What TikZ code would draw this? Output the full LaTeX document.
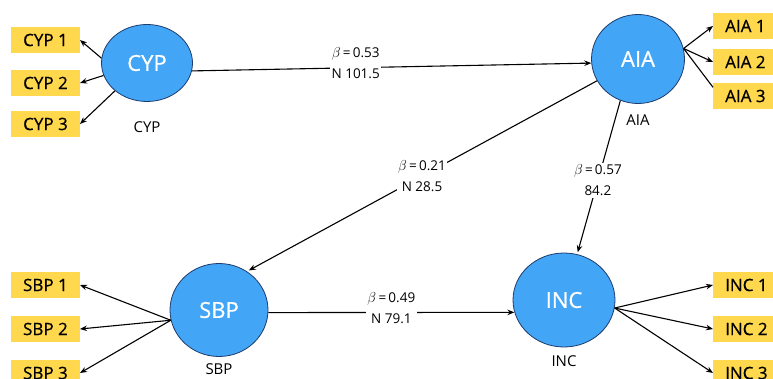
\documentclass[tikz,border=0pt]{standalone}
\usepackage{fontspec}
\setmainfont{Open Sans}
\newfontfamily\medfont{Open Sans}[FakeBold=0.7]
\usetikzlibrary{shapes.geometric, arrows.meta}
\definecolor{latblue}{HTML}{42A5F5}
\definecolor{latedge}{HTML}{1F3C6E}
\definecolor{indyellow}{HTML}{FFD84D}
\tikzset{
  latent/.style={ellipse, draw=latedge, line width=0.8pt, fill=latblue, text=white, inner sep=0pt, font=\medfont\fontsize{22}{26}\selectfont},
  indbox/.style={fill=indyellow, minimum height=26pt, inner xsep=12pt, inner ysep=0pt, font=\medfont\fontsize{17}{20}\selectfont},
  latname/.style={font=\fontsize{15}{18}\selectfont},
  arr/.style={-{Stealth[length=7pt,width=5.5pt]}, line width=1.1pt},
  wt/.style={fill=white, align=center, inner sep=1.5pt, font=\fontsize{13.5}{21}\selectfont}
}
\begin{document}
\begin{tikzpicture}[x=1pt,y=-1pt]
\useasboundingbox (0,0) rectangle (773,379);
% latent variables
\node[latent, minimum width=91pt, minimum height=77pt, label={[latname, label distance=16pt]below:CYP}] (cyp) at (147,63) {CYP};
\node[latent, minimum width=93pt, minimum height=89pt, label={[latname, label distance=7pt]below:AIA}] (aia) at (638,59) {AIA};
\node[latent, minimum width=98pt, minimum height=93pt, label={[latname, label distance=3.5pt]below:SBP}] (sbp) at (219,310) {SBP};
\node[latent, minimum width=102pt, minimum height=94pt, label={[latname, label distance=4.5pt]below:INC}] (inc) at (564,300) {INC};
% indicators
\foreach \i/\y in {1/40,2/83,3/124}
  \node[indbox, anchor=east] (cyp\i) at (80,\y) {CYP \i};
\foreach \i/\y in {1/26,2/62,3/96}
  \node[indbox, anchor=west] (aia\i) at (713,\y) {AIA \i};
\foreach \i/\y in {1/285,2/329,3/373}
  \node[indbox, anchor=east] (sbp\i) at (80,\y) {SBP \i};
\foreach \i/\y in {1/285,2/329,3/373}
  \node[indbox, anchor=west] (inc\i) at (713,\y) {INC \i};
% loadings
\draw[arr] (cyp.174) -- (cyp1.east);
\draw[arr] (cyp.196) -- (cyp2.east);
\draw[arr] (cyp.221) -- (cyp3.east);
\draw[arr] (aia.13) -- (aia1.west);
\draw[arr] (aia.13) -- (aia2.west);
\draw[line width=1.1pt] (aia.13) -- (aia3.165);
\foreach \i in {1,2,3}
  \draw[arr] (sbp.192) -- (sbp\i.east);
\foreach \i in {1,2,3}
  \draw[arr] (inc.351) -- (inc\i.west);
% paths
\draw[arr] (cyp.350) -- node[wt, pos=0.41, yshift=5pt] {$\beta$\,=\,0.53\\N 101.5} (aia.185);
\draw[arr, shorten >=2pt] (aia.208) -- node[wt, pos=0.5] {$\beta$\,=\,0.21\\N 28.5} (sbp.54);
\draw[arr, shorten >=2pt] (aia.247) -- node[wt, pos=0.52] {$\beta$\,=\,0.57\\84.2} (inc.74);
\draw[arr] (sbp.357) -- node[wt, pos=0.5, yshift=4pt] {$\beta$\,=\,0.49\\N 79.1} (inc.194);
\end{tikzpicture}
\end{document}
